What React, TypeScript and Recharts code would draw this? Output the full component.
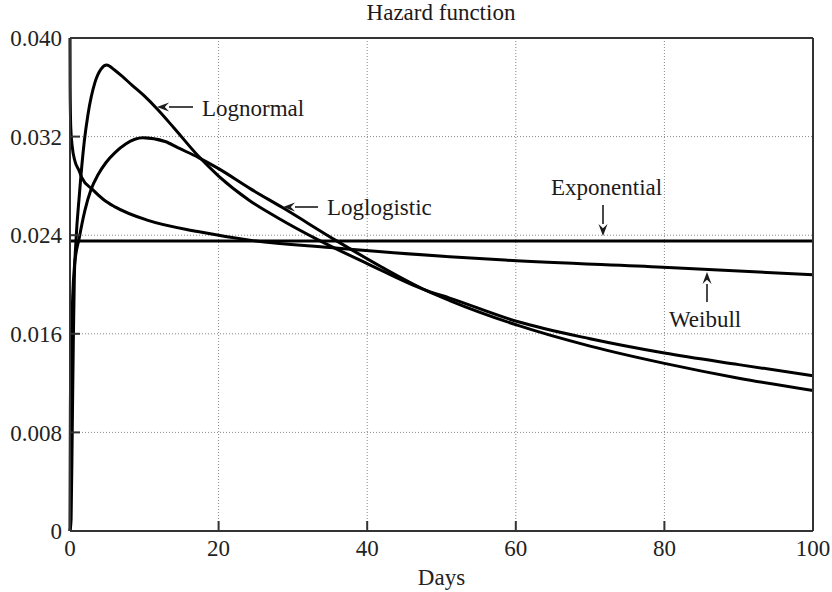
import { CartesianGrid, Label, Line, LineChart, XAxis, YAxis } from "recharts"

const xTicks = [0, 20, 40, 60, 80, 100]
const yTicks = [0, 0.008, 0.016, 0.024, 0.032, 0.04]
const yTickLabels = ["0", "0.008", "0.016", "0.024", "0.032", "0.040"]

// values (days -> hazard)
const lognormalDays = [0, 0.15, 0.3, 0.45, 0.58, 0.8, 1.25, 1.92, 2.42, 3.36, 4.2, 4.94, 6, 7, 8.3, 10, 11.8, 14, 17.3, 20, 24.2, 28, 33.8, 40, 48, 51.1, 60.2, 70, 80, 90, 100]
const lognormalHazard = [0, 0.001, 0.008, 0.0155, 0.0204, 0.0235, 0.0272, 0.0316, 0.0338, 0.0364, 0.0375, 0.0378, 0.0374, 0.0369, 0.0362, 0.0353, 0.0342, 0.0327, 0.0304, 0.0288, 0.0268, 0.0254, 0.0235, 0.0217, 0.0195, 0.0189, 0.017, 0.0156, 0.01444, 0.0135, 0.0126]

const loglogisticDays = [0, 0.05, 0.15, 0.23, 0.36, 0.6, 1.25, 2, 2.83, 3.77, 4.85, 6.06, 7.5, 9.8, 12.8, 14.5, 17.3, 20, 24.2, 28.7, 36, 42, 48, 51.1, 60.2, 70, 80, 90, 100]
const loglogisticHazard = [0, 0.01, 0.0145, 0.0163, 0.019, 0.0215, 0.0238, 0.026, 0.0277, 0.0289, 0.0299, 0.0307, 0.0314, 0.0319, 0.0316, 0.0311, 0.0303, 0.0294, 0.0278, 0.0262, 0.0235, 0.0214, 0.0195, 0.0187, 0.0167, 0.015, 0.0136, 0.0124, 0.0114]

const weibullDays = [0, 0.02, 0.1, 0.3, 0.67, 1.25, 1.57, 3.05, 4.5, 6.06, 10.5, 17.2, 24.2, 35, 51.1, 57.9, 79.8, 100]
const weibullHazard = [0.04, 0.036, 0.0328, 0.0312, 0.03, 0.0292, 0.0287, 0.0277, 0.0269, 0.0263, 0.0252, 0.0243, 0.0236, 0.023, 0.02225, 0.022, 0.0214, 0.0208]

const exponentialDays = [0, 100]
const exponentialHazard = [0.02352, 0.02352]

const toPoints = (days: number[], hazard: number[]) =>
  days.map((day, i) => ({ day, h: hazard[i] }))

const font = '"Liberation Serif", "DejaVu Serif", serif'
const ink = "#1c1a1a"
const axisStroke = { stroke: "#333", strokeWidth: 2 }
const tickStyle = { fill: "#222", fontSize: 23, fontFamily: font }

const series = [
  { name: "Lognormal", data: toPoints(lognormalDays, lognormalHazard) },
  { name: "Loglogistic", data: toPoints(loglogisticDays, loglogisticHazard) },
  { name: "Weibull", data: toPoints(weibullDays, weibullHazard) },
  { name: "Exponential", data: toPoints(exponentialDays, exponentialHazard) },
]

const Arrow = ({ x1, y1, x2, y2 }: { x1: number; y1: number; x2: number; y2: number }) => {
  const a = Math.atan2(y2 - y1, x2 - x1)
  const len = 12
  const w = 4.5
  const bx = x2 - len * Math.cos(a)
  const by = y2 - len * Math.sin(a)
  const px = -Math.sin(a) * w
  const py = Math.cos(a) * w
  return (
    <g>
      <line x1={x1} y1={y1} x2={bx} y2={by} stroke={ink} strokeWidth={1.6} />
      <path d={`M${x2},${y2} L${bx + px},${by + py} L${bx + 0.35 * len * Math.cos(a)},${by + 0.35 * len * Math.sin(a)} L${bx - px},${by - py} Z`} fill={ink} />
    </g>
  )
}

export default function App() {
  return (
    <div style={{ position: "absolute", left: 0, top: 0, width: 832, height: 592, fontFamily: font }}>
      <LineChart width={832} height={592} margin={{ top: 38, right: 19, bottom: 0, left: 0 }} style={{ fontFamily: font }}>
        <CartesianGrid stroke="#888" strokeDasharray="1 2" />
        <XAxis
          dataKey="day"
          type="number"
          domain={[0, 100]}
          ticks={xTicks}
          interval={0}
          height={61}
          tickSize={-10}
          tickMargin={19}
          axisLine={axisStroke}
          tickLine={axisStroke}
          tick={tickStyle}
          fontFamily={font}
        >
          <Label value="Days" position="insideBottom" offset={7} style={{ fill: "#222", fontSize: 23, fontFamily: font }} />
        </XAxis>
        <YAxis
          type="number"
          domain={[0, 0.04]}
          ticks={yTicks}
          interval={0}
          width={70}
          tickSize={-10}
          tickMargin={18}
          axisLine={axisStroke}
          tickLine={axisStroke}
          tick={tickStyle}
          fontFamily={font}
          tickFormatter={(v: number) => yTickLabels[yTicks.indexOf(v)] ?? String(v)}
        />
        <XAxis
          xAxisId="top"
          orientation="top"
          mirror
          type="number"
          domain={[0, 100]}
          ticks={xTicks}
          tick={false}
          tickSize={10}
          axisLine={axisStroke}
          tickLine={axisStroke}
        />
        <YAxis
          yAxisId="right"
          orientation="right"
          mirror
          type="number"
          domain={[0, 0.04]}
          ticks={yTicks}
          tick={false}
          tickSize={10}
          axisLine={axisStroke}
          tickLine={axisStroke}
        />
        {series.map((s) => (
          <Line
            key={s.name}
            data={s.data}
            dataKey="h"
            name={s.name}
            type="monotone"
            stroke="#000"
            strokeWidth={3}
            dot={false}
            activeDot={false}
            isAnimationActive={false}
          />
        ))}
      </LineChart>
      <svg
        width={832}
        height={592}
        style={{ position: "absolute", left: 0, top: 0, pointerEvents: "none" }}
        fontFamily={font}
        fontSize={23}
        fill={ink}
      >
        <text x={441} y={20} textAnchor="middle">Hazard function</text>
        <text x={202} y={116}>Lognormal</text>
        <Arrow x1={193} y1={107} x2={157} y2={107} />
        <text x={327} y={215}>Loglogistic</text>
        <Arrow x1={318} y1={207} x2={283} y2={207} />
        <text x={551} y={195}>Exponential</text>
        <Arrow x1={603} y1={205} x2={603} y2={236} />
        <text x={669} y={327}>Weibull</text>
        <Arrow x1={707} y1={302} x2={707} y2={272} />
      </svg>
    </div>
  )
}
